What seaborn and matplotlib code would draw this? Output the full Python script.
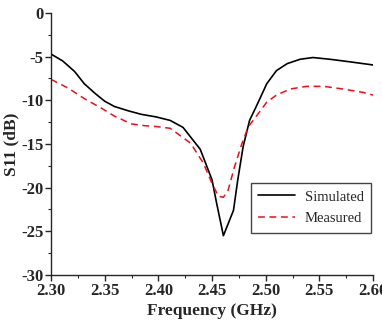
import numpy as np
import pandas as pd
import matplotlib
matplotlib.use("Agg")
import matplotlib.pyplot as plt
from matplotlib.ticker import MultipleLocator, FormatStrFormatter
import seaborn as sns

# values
freq_sim = [2.300, 2.311, 2.322, 2.331, 2.341, 2.350, 2.359, 2.372, 2.384, 2.398,
            2.411, 2.423, 2.439, 2.450, 2.454, 2.4606, 2.470, 2.474, 2.479, 2.485,
            2.492, 2.501, 2.510, 2.520, 2.532, 2.544, 2.560, 2.579, 2.600]
s11_sim = [-4.7, -5.5, -6.7, -8.1, -9.2, -10.1, -10.7, -11.2, -11.6, -11.9,
           -12.3, -13.1, -15.6, -19.1, -21.6, -25.5, -22.6, -19.1, -15.3, -12.3,
           -10.5, -8.1, -6.6, -5.8, -5.3, -5.1, -5.3, -5.6, -5.95]

freq_meas = [2.300, 2.316, 2.331, 2.347, 2.359, 2.375, 2.387, 2.398, 2.411, 2.430,
             2.442, 2.450, 2.456, 2.4606, 2.465, 2.471, 2.478, 2.484, 2.492, 2.501,
             2.510, 2.523, 2.538, 2.554, 2.572, 2.591, 2.600]
s11_meas = [-7.6, -8.6, -9.8, -10.9, -11.8, -12.7, -12.9, -13.0, -13.2, -14.9,
            -17.2, -19.5, -21.0, -21.1, -20.3, -17.6, -14.9, -13.0, -11.7, -10.2,
            -9.4, -8.7, -8.4, -8.4, -8.7, -9.1, -9.4]

sns.set_style("ticks")
plt.rcParams['font.family'] = ['Liberation Serif', 'DejaVu Serif']
plt.rcParams['axes.unicode_minus'] = False

df_sim = pd.DataFrame({'f': freq_sim, 's': s11_sim})
df_meas = pd.DataFrame({'f': freq_meas, 's': s11_meas})

fig = plt.figure(figsize=(3.82, 3.30), dpi=100)
ax = fig.add_axes([0.1335, 0.1667, 0.9765 - 0.1335, 0.9606 - 0.1667])

sns.lineplot(data=df_sim, x='f', y='s', ax=ax, color='black', lw=1.2,
             label='Simulated')
sns.lineplot(data=df_meas, x='f', y='s', ax=ax, color='#e8101a', lw=1.1,
             label='Measured')
ax.lines[1].set_dashes((4.5, 3))

ax.set_xlim(2.30, 2.60)
ax.set_ylim(-30, 0)
ax.xaxis.set_major_locator(MultipleLocator(0.05))
ax.xaxis.set_minor_locator(MultipleLocator(0.025))
ax.yaxis.set_major_locator(MultipleLocator(5))
ax.yaxis.set_minor_locator(MultipleLocator(2.5))
ax.xaxis.set_major_formatter(FormatStrFormatter('%.2f'))
ax.yaxis.set_major_formatter(FormatStrFormatter('%d'))

for side in ['top', 'right']:
    ax.spines[side].set_visible(False)
for side in ['left', 'bottom']:
    ax.spines[side].set_linewidth(1.0)
ax.tick_params(which='major', direction='out', length=4, width=1.0,
               labelsize=12, pad=1.5)
ax.tick_params(which='minor', direction='out', length=2.5, width=0.8)
for lab in ax.get_xticklabels() + ax.get_yticklabels():
    lab.set_fontweight('bold')

ax.set_xlabel('Frequency (GHz)', fontsize=12.5, fontweight='bold', labelpad=3)
ax.set_ylabel('S11 (dB)', fontsize=12.5, fontweight='bold', labelpad=1)

leg = ax.legend(loc='upper left', bbox_to_anchor=(0.621, 0.351), borderaxespad=0,
                fontsize=10.5, frameon=True, fancybox=False, handlelength=2.5,
                handletextpad=0.7, borderpad=0.5, labelspacing=0.6)
leg.get_frame().set_edgecolor('#444444')
leg.get_frame().set_linewidth(1.0)
leg.get_frame().set_alpha(1)

fig.savefig('out.png', dpi=100)
